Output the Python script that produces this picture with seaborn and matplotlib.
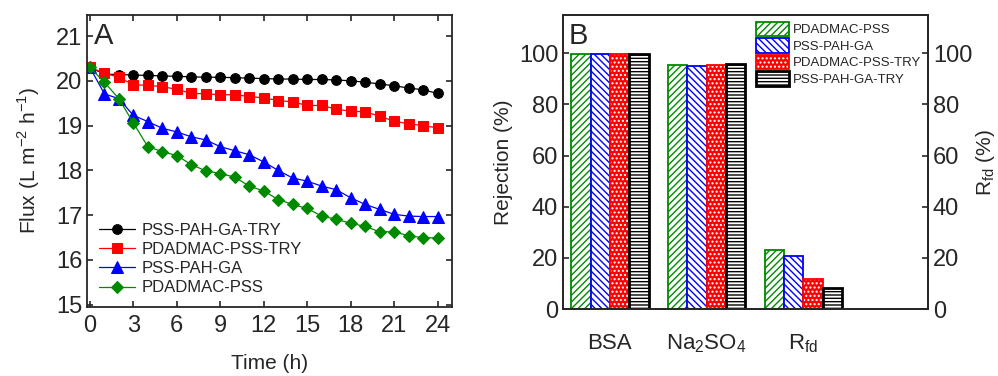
import pandas as pd
import seaborn as sns
import matplotlib.pyplot as plt
from matplotlib.patches import Patch
from matplotlib.colors import to_rgba

# ---- panel A: flux vs time
time_h = list(range(25))
flux_pss_pah_ga_try = [20.30, 20.15, 20.14, 20.13, 20.12, 20.11, 20.10, 20.09, 20.08, 20.08,
                       20.07, 20.06, 20.05, 20.04, 20.04, 20.03, 20.03, 20.02, 20.00, 19.97,
                       19.93, 19.89, 19.84, 19.80, 19.72]
flux_pdadmac_pss_try = [20.30, 20.17, 20.08, 19.91, 19.90, 19.87, 19.81, 19.72, 19.71, 19.69,
                        19.69, 19.65, 19.62, 19.56, 19.53, 19.45, 19.45, 19.37, 19.32, 19.31,
                        19.21, 19.10, 19.04, 19.00, 18.95]
flux_pss_pah_ga = [20.30, 19.71, 19.60, 19.23, 19.09, 18.94, 18.86, 18.75, 18.68, 18.53,
                   18.44, 18.35, 18.19, 18.00, 17.83, 17.76, 17.65, 17.57, 17.39, 17.24,
                   17.13, 17.02, 16.98, 16.97, 16.97]
flux_pdadmac_pss = [20.30, 19.97, 19.60, 19.06, 18.53, 18.42, 18.33, 18.13, 17.99, 17.93,
                    17.85, 17.65, 17.54, 17.35, 17.24, 17.15, 16.98, 16.91, 16.82, 16.75,
                    16.63, 16.63, 16.54, 16.50, 16.49]
line_names = ["PSS-PAH-GA-TRY", "PDADMAC-PSS-TRY", "PSS-PAH-GA", "PDADMAC-PSS"]

# ---- panel B: rejection / Rfd
categories = ["BSA", "Na$_2$SO$_4$", "R$_{\\mathregular{fd}}$"]
membranes = ["PDADMAC-PSS", "PSS-PAH-GA", "PDADMAC-PSS-TRY", "PSS-PAH-GA-TRY"]
rej_pdadmac_pss = [99.8, 95.5, 23.0]
rej_pss_pah_ga = [99.8, 95.2, 20.8]
rej_pdadmac_pss_try = [99.8, 95.5, 11.6]
rej_pss_pah_ga_try = [99.8, 96.0, 8.3]

green = "#008a00"
colors_A = ["black", "#ff0000", "#0000ff", green]
markers_A = ["o", "s", "^", "D"]

sns.set_style("ticks")
plt.rcParams['font.family'] = ['Liberation Sans', 'DejaVu Sans']
plt.rcParams['mathtext.fontset'] = 'custom'
plt.rcParams['mathtext.rm'] = 'Liberation Sans'
plt.rcParams['hatch.linewidth'] = 1.0

fig = plt.figure(figsize=(9.98, 3.76), dpi=100)
ax1 = fig.add_axes([87/998, 1-307/376, 365/998, 292/376])
ax2 = fig.add_axes([563/998, 1-309/376, 365/998, 294/376])

series = [flux_pss_pah_ga_try, flux_pdadmac_pss_try, flux_pss_pah_ga, flux_pdadmac_pss]
for name, vals, c, m in zip(line_names, series, colors_A, markers_A):
    ms = 8 if m == "^" else (6.5 if m == "D" else 7)
    sns.lineplot(x=time_h, y=vals, ax=ax1, color=c, marker=m, markersize=ms,
                 markeredgecolor=c, linewidth=0.9, label=name)

ax1.set_xlim(-0.2, 25)
ax1.set_ylim(14.95, 21.47)
ax1.set_xticks(range(0, 25, 3))
ax1.set_yticks(range(15, 22))
ax1.tick_params(direction="in", top=True, right=True, length=4, width=1.2, labelsize=17)
ax1.tick_params(axis="x", pad=6)
ax1.set_xlabel("Time (h)", fontsize=15, labelpad=12)
ax1.set_ylabel("Flux (L m$^{\\mathregular{-2}}$ h$^{\\mathregular{-1}}$)", fontsize=15, labelpad=10)
for s in ax1.spines.values():
    s.set_linewidth(1.3)
ax1.legend(loc="lower left", frameon=False, fontsize=12, handlelength=2.2,
           handletextpad=0.4, labelspacing=0.25, borderaxespad=0.3)
ax1.text(0.02, 0.975, "A", transform=ax1.transAxes, va="top", ha="left", fontsize=21)

# bars
df = pd.DataFrame({
    "cat": categories * 4,
    "membrane": [m for m in membranes for _ in categories],
    "value": rej_pdadmac_pss + rej_pss_pah_ga + rej_pdadmac_pss_try + rej_pss_pah_ga_try,
})
bar_face = ["white", "white", "#ff0000", "white"]
bar_edge = [green, "#0000ff", "#ff0000", "black"]
bar_hatch = ["/////", "\\\\\\\\\\", "....", "-----"]
bar_hcol = [green, "#0000ff", "white", "black"]
bar_lw = [1.3, 1.3, 1.3, 2.0]

sns.barplot(data=df, x="cat", y="value", hue="membrane", hue_order=membranes,
            palette=bar_edge, saturation=1, ax=ax2, legend=False, width=0.8)
for cont, fc, ec, h, hc, lw in zip(ax2.containers, bar_face, bar_edge, bar_hatch, bar_hcol, bar_lw):
    for p in cont.patches:
        p.set_facecolor(fc)
        p.set_edgecolor(ec)
        p.set_hatch(h)
        p.set_linewidth(lw)
        p._hatch_color = to_rgba(hc)

ax2.set_xlim(-0.485, 3.29)
ax2.set_ylim(0, 115)
ax2.set_yticks(range(0, 101, 20))
ax2.set_xlabel("")
ax2.set_ylabel("Rejection (%)", fontsize=15)
ax2.tick_params(axis="y", direction="in", length=4, width=1.2, labelsize=17)
ax2.tick_params(axis="x", length=0, pad=17, labelsize=16)
for s in ax2.spines.values():
    s.set_linewidth(1.3)
ax2.text(0.015, 0.975, "B", transform=ax2.transAxes, va="top", ha="left", fontsize=21)

handles = [Patch(facecolor=fc, edgecolor=ec, hatch=h, linewidth=lw, label=m)
           for fc, ec, h, lw, m in zip(bar_face, bar_edge, bar_hatch, bar_lw, membranes)]
leg = ax2.legend(handles=handles, loc="upper right", frameon=False, fontsize=9.5,
                 handlelength=2.5, handleheight=1.3, handletextpad=0.3,
                 labelspacing=0.15, borderaxespad=0.1)
for p, hc in zip(leg.get_patches(), bar_hcol):
    p._hatch_color = to_rgba(hc)

ax2r = ax2.twinx()
ax2r.set_ylim(0, 115)
ax2r.set_yticks(range(0, 101, 20))
ax2r.tick_params(axis="y", direction="in", length=4, width=1.2, labelsize=17)
ax2r.set_ylabel("R$_{\\mathregular{fd}}$ (%)", fontsize=15, labelpad=1)
for s in ax2r.spines.values():
    s.set_linewidth(1.3)

fig.savefig("out.png", dpi=100)
